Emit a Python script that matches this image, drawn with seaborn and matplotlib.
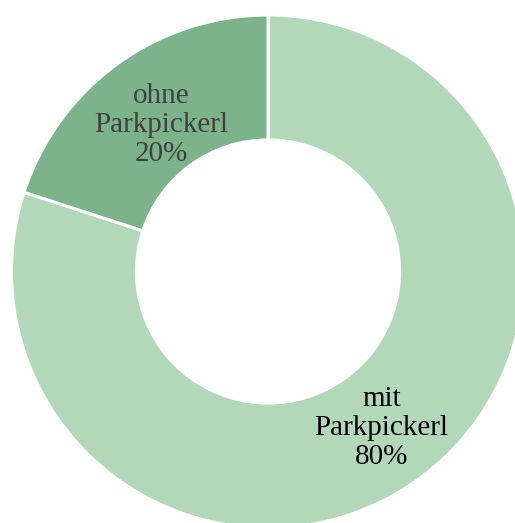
import matplotlib
matplotlib.use("Agg")
import matplotlib.pyplot as plt
import seaborn as sns

labels = ["mit\nParkpickerl", "ohne\nParkpickerl"]
shares = [80, 20]
slice_colors = ["#b2d7b9", "#7db38a"]
text_colors = ["#000000", "#404040"]
label_pos = [(0.442, -0.610), (-0.415, 0.571)]

sns.set_theme(style="white")
plt.rcParams["font.family"] = ["Liberation Serif", "DejaVu Serif"]

fig = plt.figure(figsize=(5.15, 5.23), dpi=100)
ax = fig.add_axes([0, 0, 1, 1])

ax.pie(shares, colors=slice_colors, startangle=90, counterclock=False,
       radius=1.0, wedgeprops=dict(width=0.487, edgecolor="white", linewidth=2.2))

for lab, val, col, (x, y) in zip(labels, shares, text_colors, label_pos):
    ax.text(x, y, f"{lab}\n{val}%", ha="center", va="center", fontsize=21,
            color=col, linespacing=1.13)

# place the donut so the right and bottom edges get clipped like the original
r_px = 256.5
cx, cy = 268, 271.5
ax.set_aspect("auto")
ax.set_xlim(-cx / r_px, (515 - cx) / r_px)
ax.set_ylim(-(523 - cy) / r_px, cy / r_px)
ax.axis("off")

fig.savefig("out.png", dpi=100)
plt.close()
